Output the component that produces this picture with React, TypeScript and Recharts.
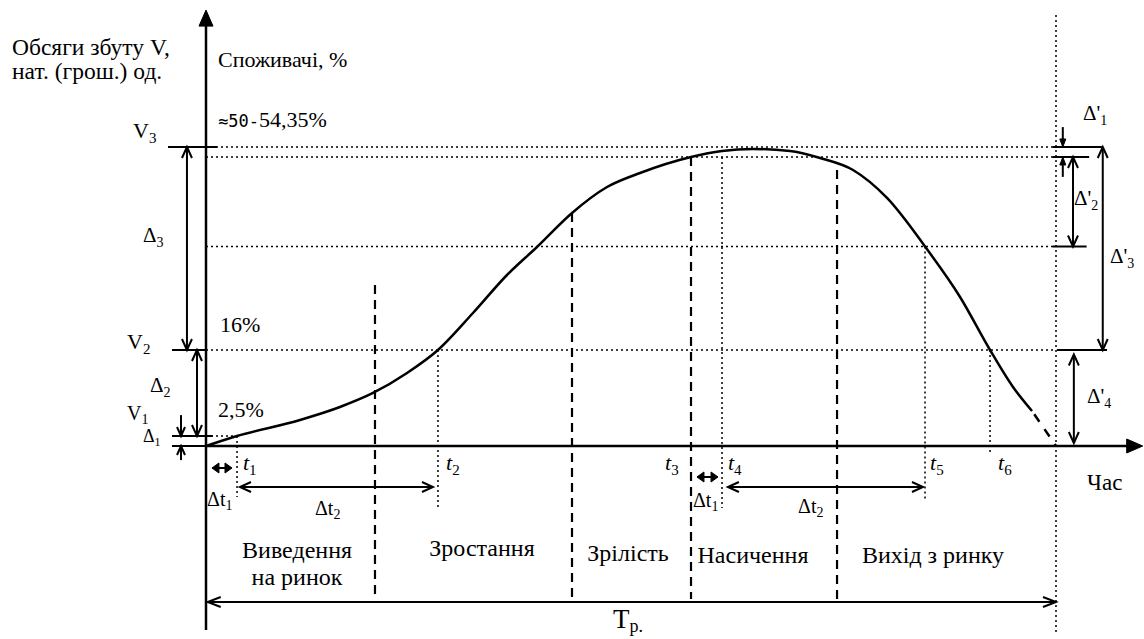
import React from 'react';
import { ComposedChart, Line, XAxis, YAxis, ReferenceLine, ReferenceDot } from 'recharts';

// ---------- data (time t: 0..Tp=100, volume v: relative units) ----------
type Pt = { t: number; v: number };

const lifecycleCurve: Pt[] = [
  { t: 0, v: 0 }, { t: 3.65, v: 3.33 }, { t: 11.06, v: 8.67 }, { t: 15.76, v: 13.0 },
  { t: 19.65, v: 17.67 }, { t: 23.65, v: 24.33 }, { t: 27.29, v: 32.0 }, { t: 31.41, v: 44.33 },
  { t: 35.41, v: 57.0 }, { t: 38.94, v: 66.33 }, { t: 43.06, v: 77.67 }, { t: 47.18, v: 86.33 },
  { t: 51.06, v: 91.0 }, { t: 57.06, v: 96.33 }, { t: 60.71, v: 98.33 }, { t: 64.35, v: 99.0 },
  { t: 68.7, v: 98.33 }, { t: 72.24, v: 96.0 }, { t: 76.12, v: 92.0 }, { t: 80.12, v: 82.67 },
  { t: 84.59, v: 66.5 }, { t: 88.71, v: 49.67 }, { t: 92.24, v: 32.0 }, { t: 94.94, v: 19.67 },
  { t: 97.18, v: 11.67 },
];
const declineTail: Pt[] = [{ t: 97.18, v: 11.67 }, { t: 100, v: 0 }];

const V1 = 3.33, V2 = 32, V3 = 99.67, plateauLevel = 96.33, declineLevel = 66.5;
const t1 = 3.65, t2 = 27.29, t4 = 60.71, t5 = 84.59, t6 = 92.24, Tp = 100;
const phaseBounds = [19.88, 43.06, 57.06, 74.24];
const phaseNames = ['Виведення', 'на ринок', 'Зростання', 'Зрілість', 'Насичення', 'Вихід з ринку'];
const percentLabels = ['≈50-', '54,35%', '16%', '2,5%'];
const axisTitles = ['Обсяги збуту V,', 'нат. (грош.) од.', 'Споживачі, %', 'Час'];

// ---------- drawing helpers ----------
const SERIF = '"Liberation Serif", Tinos, "Times New Roman", "DejaVu Serif", serif';
type Head = 'none' | 'open' | 'filled';

function arrow(start: Head, end: Head, sw = 2, dash?: string, L = 11, W = 5) {
  return (p: any) => {
    const { x1, y1, x2, y2 } = p;
    const dx = x2 - x1, dy = y2 - y1;
    const len = Math.hypot(dx, dy) || 1;
    const ux = dx / len, uy = dy / len, nx = -uy, ny = ux;
    let ax = x1, ay = y1, bx = x2, by = y2;
    const heads: React.ReactNode[] = [];
    const mk = (tx: number, ty: number, dxu: number, dyu: number, kind: Head, k: string) => {
      if (kind === 'none') return;
      const pts = `${tx - dxu * L + nx * W},${ty - dyu * L + ny * W} ${tx},${ty} ${tx - dxu * L - nx * W},${ty - dyu * L - ny * W}`;
      if (kind === 'open') heads.push(<polyline key={k} points={pts} fill="none" stroke="#000" strokeWidth={sw} strokeLinejoin="miter" />);
      else heads.push(<polygon key={k} points={pts} fill="#000" stroke="#000" strokeWidth={1} />);
    };
    mk(x2, y2, ux, uy, end, 'e');
    mk(x1, y1, -ux, -uy, start, 's');
    if (end === 'filled') { bx = x2 - ux * L * 0.8; by = y2 - uy * L * 0.8; }
    if (start === 'filled') { ax = x1 + ux * L * 0.8; ay = y1 + uy * L * 0.8; }
    if (end === 'open') { bx = x2 - ux * 1; by = y2 - uy * 1; }
    if (start === 'open') { ax = x1 + ux * 1; ay = y1 + uy * 1; }
    return (
      <g>
        <line x1={ax} y1={ay} x2={bx} y2={by} stroke="#000" strokeWidth={sw} strokeDasharray={dash} />
        {heads}
      </g>
    );
  };
}

type Part = { s: string; sub?: boolean; font?: string; size?: number };
type TextItem = { t: number; v: number; parts: Part[]; size?: number; italic?: boolean; anchor?: 'start' | 'middle' | 'end' };

function textShape(item: TextItem) {
  return (p: any) => {
    const size = item.size ?? 22;
    let shifted = false;
    return (
      <text x={p.cx} y={p.cy} fill="#000" textAnchor={item.anchor ?? 'start'}
        style={{ fontFamily: SERIF, fontSize: size, fontStyle: item.italic ? 'italic' : 'normal' }}>
        {item.parts.map((pt, i) => {
          let dy = 0;
          const shift = Math.round(size * 0.22);
          if (pt.sub && !shifted) { dy = shift; shifted = true; }
          else if (!pt.sub && shifted) { dy = -shift; shifted = false; }
          return (
            <tspan key={i} dy={dy}
              style={{
                fontFamily: pt.font ?? SERIF,
                fontSize: pt.size ?? (pt.sub ? Math.round(size * 0.68) : size),
                fontStyle: pt.sub ? 'normal' : undefined,
              }}>{pt.s}</tspan>
          );
        })}
      </text>
    );
  };
}

const sub = (s: string): Part => ({ s, sub: true });
const txt = (s: string): Part => ({ s });

const texts: TextItem[] = [
  { t: -22.82, v: 130.33, parts: [txt(axisTitles[0])], size: 23.5 },
  { t: -22.82, v: 122.33, parts: [txt(axisTitles[1])], size: 23.5 },
  { t: 1.41, v: 126.33, parts: [txt(axisTitles[2])] },
  { t: 1.41, v: 106.33, parts: [{ s: percentLabels[0], font: '"DejaVu Sans Mono", monospace', size: 17 }, txt(percentLabels[1])] },
  { t: 1.65, v: 38, parts: [txt(percentLabels[2])] },
  { t: 1.41, v: 9.67, parts: [txt(percentLabels[3])] },
  { t: -8.59, v: 102.67, parts: [txt('V'), sub('3')] },
  { t: -9.29, v: 32.33, parts: [txt('V'), sub('2')] },
  { t: -9.29, v: 8.67, parts: [txt('V'), sub('1')], size: 20 },
  { t: -7.41, v: 68, parts: [txt('Δ'), sub('3')], size: 21 },
  { t: -6.59, v: 18, parts: [txt('Δ'), sub('2')], size: 21 },
  { t: -7.41, v: 1.33, parts: [txt('Δ'), sub('1')], size: 18 },
  { t: 103.18, v: 108.67, parts: [txt("Δ'"), sub('1')], size: 21 },
  { t: 102.12, v: 80.33, parts: [txt("Δ'"), sub('2')], size: 21 },
  { t: 106.35, v: 61, parts: [txt("Δ'"), sub('3')], size: 21 },
  { t: 103.65, v: 14.33, parts: [txt("Δ'"), sub('4')], size: 21 },
  { t: 4.35, v: -8, parts: [txt('t'), sub('1')], italic: true },
  { t: 28.24, v: -8, parts: [txt('t'), sub('2')], italic: true },
  { t: 54.0, v: -8, parts: [txt('t'), sub('3')], italic: true },
  { t: 61.41, v: -8, parts: [txt('t'), sub('4')], italic: true },
  { t: 85.18, v: -8, parts: [txt('t'), sub('5')], italic: true },
  { t: 93.18, v: -8, parts: [txt('t'), sub('6')], italic: true },
  { t: 0.12, v: -20, parts: [txt('Δt'), sub('1')], size: 20 },
  { t: 12.82, v: -23, parts: [txt('Δt'), sub('2')], size: 20 },
  { t: 57.29, v: -20.33, parts: [txt('Δt'), sub('1')], size: 20 },
  { t: 69.65, v: -22.33, parts: [txt('Δt'), sub('2')], size: 20 },
  { t: 103.65, v: -14.67, parts: [txt(axisTitles[3])], size: 23 },
  { t: 10.71, v: -37.33, parts: [txt(phaseNames[0])], anchor: 'middle', size: 24 },
  { t: 10.71, v: -46.33, parts: [txt(phaseNames[1])], anchor: 'middle', size: 24 },
  { t: 32.47, v: -36.67, parts: [txt(phaseNames[2])], anchor: 'middle', size: 24 },
  { t: 49.65, v: -38.33, parts: [txt(phaseNames[3])], anchor: 'middle', size: 24 },
  { t: 64.35, v: -39, parts: [txt(phaseNames[4])], anchor: 'middle', size: 24 },
  { t: 85.53, v: -39, parts: [txt(phaseNames[5])], anchor: 'middle', size: 24 },
  { t: 47.88, v: -60.67, parts: [{ s: 'T', size: 27 }, { s: 'р.', sub: true, size: 18 }], size: 18 },
];

type Seg = { a: Pt; b: Pt; start: Head; end: Head; sw?: number; dash?: string; L?: number; W?: number };
const seg = (ta: number, va: number, tb: number, vb: number, start: Head, end: Head, extra: Partial<Seg> = {}): Seg =>
  ({ a: { t: ta, v: va }, b: { t: tb, v: vb }, start, end, ...extra });

const DOT = '2 3';
const DASH = '9 6';

const segments: Seg[] = [
  // axes
  seg(0, -61.3, 0, 145.3, 'none', 'filled', { sw: 2.5, L: 16, W: 7 }),
  seg(0, 0, 110.2, 0, 'none', 'filled', { sw: 2.5, L: 16, W: 7 }),
  // level dotted lines
  seg(0, V3, Tp, V3, 'none', 'none', { sw: 1.5, dash: DOT }),
  seg(0, plateauLevel, Tp, plateauLevel, 'none', 'none', { sw: 1.5, dash: DOT }),
  seg(0, declineLevel, Tp, declineLevel, 'none', 'none', { sw: 1.5, dash: DOT }),
  seg(0, V2, Tp, V2, 'none', 'none', { sw: 1.5, dash: DOT }),
  seg(0, V1, t1, V1, 'none', 'none', { sw: 1.5, dash: DOT }),
  // left ticks
  seg(-4.47, V3, 1.3, V3, 'none', 'none', { sw: 2 }),
  seg(-4.0, V2, 0, V2, 'none', 'none', { sw: 2 }),
  seg(-4.0, V1, 0.8, V1, 'none', 'none', { sw: 2 }),
  seg(-4.0, 0, 0, 0, 'none', 'none', { sw: 2 }),
  // right ticks
  seg(99.6, V3, 105.4, V3, 'none', 'none', { sw: 2 }),
  seg(99.6, plateauLevel, 103.9, plateauLevel, 'none', 'none', { sw: 2 }),
  seg(99.6, declineLevel, 103.6, declineLevel, 'none', 'none', { sw: 2 }),
  seg(100.1, V2, 106, V2, 'none', 'none', { sw: 2 }),
  // left delta arrows
  seg(-2.24, V2, -2.24, V3, 'open', 'open', { sw: 2 }),
  seg(-1.06, V1, -1.06, V2, 'open', 'open', { sw: 2 }),
  seg(-2.94, 10.3, -2.94, V1, 'none', 'open', { sw: 2, L: 9, W: 4 }),
  seg(-2.94, -4.7, -2.94, 0, 'none', 'open', { sw: 2, L: 9, W: 4 }),
  // right delta arrows
  seg(100.8, 106.3, 100.8, V3, 'none', 'filled', { sw: 2, L: 8, W: 3 }),
  seg(100.8, 89.7, 100.8, plateauLevel, 'none', 'filled', { sw: 2, L: 8, W: 3 }),
  seg(102.0, declineLevel, 102.0, plateauLevel, 'open', 'open', { sw: 2 }),
  seg(105.5, V2, 105.5, V3, 'open', 'open', { sw: 2 }),
  seg(102.1, 1.0, 102.1, 30.5, 'open', 'open', { sw: 2 }),
  // time-interval arrows
  seg(4.0, -13.67, 26.7, -13.67, 'open', 'open', { sw: 2 }),
  seg(61.4, -13.67, 84.35, -13.67, 'open', 'open', { sw: 2 }),
  seg(0.7, -7.33, 3.06, -7.33, 'filled', 'filled', { sw: 2, L: 7, W: 5 }),
  seg(57.76, -10.33, 60.24, -10.33, 'filled', 'filled', { sw: 2, L: 7, W: 5 }),
  // life-cycle span
  seg(0.2, -52, Tp, -52, 'open', 'open', { sw: 2, L: 13, W: 5 }),
  // phase boundaries (dashed)
  seg(phaseBounds[0], 53.67, phaseBounds[0], -51, 'none', 'none', { sw: 2.2, dash: DASH }),
  seg(phaseBounds[1], 77.67, phaseBounds[1], -51, 'none', 'none', { sw: 2.2, dash: DASH }),
  seg(phaseBounds[2], plateauLevel, phaseBounds[2], -51, 'none', 'none', { sw: 2.2, dash: DASH }),
  seg(phaseBounds[3], 92, phaseBounds[3], -52, 'none', 'none', { sw: 2.2, dash: DASH }),
  // time markers (dotted)
  seg(t1, V1, t1, -17, 'none', 'none', { sw: 1.5, dash: DOT }),
  seg(t2, V2, t2, -20.7, 'none', 'none', { sw: 1.5, dash: DOT }),
  seg(t4, plateauLevel, t4, -20.7, 'none', 'none', { sw: 1.5, dash: DOT }),
  seg(t5, declineLevel, t5, -18, 'none', 'none', { sw: 1.5, dash: DOT }),
  seg(t6, V2, t6, -2.3, 'none', 'none', { sw: 1.5, dash: DOT }),
  seg(Tp, 143.7, Tp, -62, 'none', 'none', { sw: 1.5, dash: DOT }),
];

export default function App() {
  return (
    <div style={{ position: 'absolute', left: 0, top: 0, background: '#fff', fontFamily: SERIF }}>
      <ComposedChart width={1144} height={639} margin={{ top: 0, right: 0, bottom: 0, left: 0 }}>
        <XAxis type="number" dataKey="t" hide domain={[-206 / 8.5, 938 / 8.5]} allowDataOverflow />
        <YAxis type="number" dataKey="v" hide domain={[-193 / 3, 446 / 3]} allowDataOverflow />
        {segments.map((s, i) => (
          <ReferenceLine key={`s${i}`} segment={[{ x: s.a.t, y: s.a.v }, { x: s.b.t, y: s.b.v }]}
            ifOverflow="visible"
            shape={arrow(s.start, s.end, s.sw ?? 2, s.dash, s.L ?? 11, s.W ?? 5)} />
        ))}
        <Line data={lifecycleCurve} dataKey="v" type="monotone" dot={false} activeDot={false} stroke="#000" strokeWidth={2.5} isAnimationActive={false} />
        <Line data={declineTail} dataKey="v" type="linear" dot={false} activeDot={false} stroke="#000" strokeWidth={2.5} strokeDasharray="0 4 9 5" isAnimationActive={false} />
        {texts.map((it, i) => (
          <ReferenceDot key={`t${i}`} x={it.t} y={it.v} r={0} ifOverflow="visible" shape={textShape(it)} />
        ))}
      </ComposedChart>
    </div>
  );
}
